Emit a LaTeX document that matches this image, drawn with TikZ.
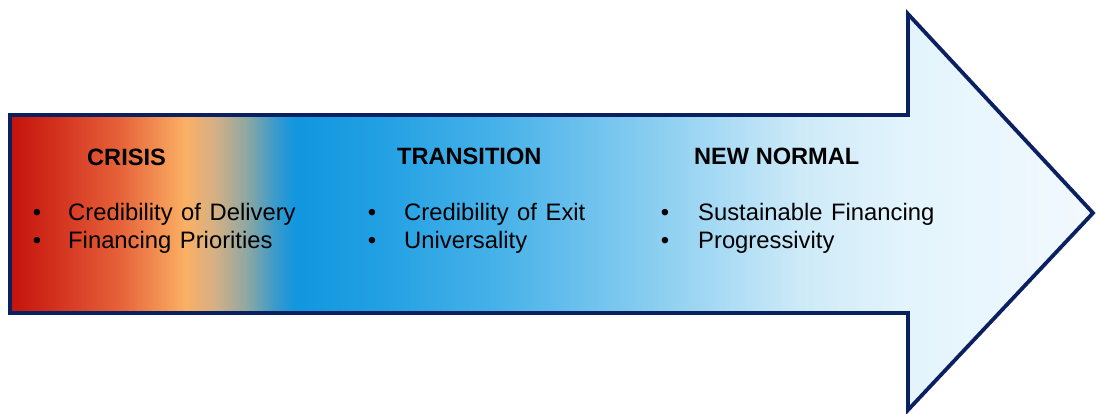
\documentclass[tikz,border=0pt]{standalone}
\usepackage{fontspec}
\setmainfont{Liberation Sans}
\definecolor{navy}{HTML}{0B2060}
\definecolor{s01}{HTML}{C4120C}
\definecolor{s02}{HTML}{D43420}
\definecolor{s03}{HTML}{E6623A}
\definecolor{s04}{HTML}{FBB064}
\definecolor{s05}{HTML}{D4B084}
\definecolor{s06}{HTML}{92A8A0}
\definecolor{s07}{HTML}{3A9ACB}
\definecolor{s08}{HTML}{1196DF}
\definecolor{s09}{HTML}{22A0E3}
\definecolor{s10}{HTML}{48B2E9}
\definecolor{s11}{HTML}{88CDF0}
\definecolor{s12}{HTML}{CDEAF8}
\definecolor{s13}{HTML}{E3F4FC}
\definecolor{s14}{HTML}{F2F9FE}
\pgfdeclarehorizontalshading{arrowfade}{100bp}{%
  color(0bp)=(s01); color(25bp)=(s01); color(27.31bp)=(s02);
  color(30.08bp)=(s03); color(33.08bp)=(s04); color(34.47bp)=(s05);
  color(35.85bp)=(s06); color(37.24bp)=(s07); color(38.16bp)=(s08);
  color(42.08bp)=(s09); color(47.62bp)=(s10); color(54.55bp)=(s11);
  color(61.47bp)=(s12); color(66.46bp)=(s13); color(75bp)=(s14);
  color(100bp)=(s14)}
\newcommand\itemfont{\fontsize{23.8}{28}\selectfont\spaceskip=0.36em plus 0.1em\relax}
\tikzset{
  heading/.style={anchor=base west, inner sep=0pt, font=\fontsize{23.6}{28}\selectfont\bfseries},
  item/.style={anchor=base west, inner sep=0pt, font=\itemfont},
  bullet/.style={anchor=base, inner sep=0pt, font=\fontsize{23.8}{28}\selectfont},
}
\begin{document}
\begin{tikzpicture}[x=1pt,y=-1pt]
\useasboundingbox (0,0) rectangle (1096,413);
\path[shading=arrowfade, shading angle=0]
  (10,115) -- (908,115) -- (908,14) -- (1093,213) -- (908,410) -- (908,313) -- (10,313) -- cycle;
\draw[navy, line width=3.8pt, line join=miter]
  (10,115) -- (908,115) -- (908,14) -- (1093,213) -- (908,410) -- (908,313) -- (10,313) -- cycle;

\node[heading] (h1) at (87,165) {CRISIS};
\node[bullet] (b11) at (37,220) {•};
\node[item] (t11) at (68,220) {Credibility of Delivery};
\node[bullet] (b12) at (37,248) {•};
\node[item] (t12) at (68,248) {Financing Priorities};

\node[heading] (h2) at (397,164) {TRANSITION};
\node[bullet] (b21) at (372,220) {•};
\node[item] (t21) at (404,220) {Credibility of Exit};
\node[bullet] (b22) at (372,248) {•};
\node[item] (t22) at (404,248) {Universality};

\node[heading] (h3) at (694,164) {NEW NORMAL};
\node[bullet] (b31) at (665,220) {•};
\node[item] (t31) at (698,220) {Sustainable Financing};
\node[bullet] (b32) at (665,248) {•};
\node[item] (t32) at (698,248) {Progressivity};
\end{tikzpicture}
\end{document}
